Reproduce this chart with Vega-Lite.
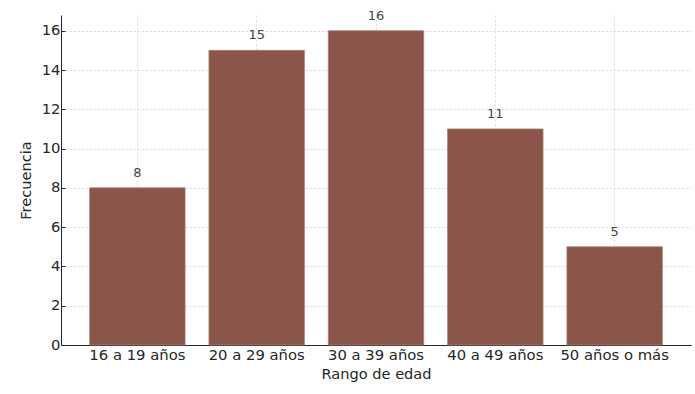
{
  "$schema": "https://vega.github.io/schema/vega-lite/v6.json",
  "width": 630,
  "height": 330,
  "autosize": {"type": "none"},
  "padding": {"left": 61, "top": 15, "right": 4, "bottom": 49},
  "background": "white",
  "data": {
    "values": [
      {"rango": "16 a 19 años", "frecuencia": 8},
      {"rango": "20 a 29 años", "frecuencia": 15},
      {"rango": "30 a 39 años", "frecuencia": 16},
      {"rango": "40 a 49 años", "frecuencia": 11},
      {"rango": "50 años o más", "frecuencia": 5}
    ]
  },
  "config": {
    "font": "DejaVu Sans",
    "view": {"stroke": null},
    "axis": {
      "labelFont": "DejaVu Sans",
      "titleFont": "DejaVu Sans",
      "labelFontSize": 14.8,
      "titleFontSize": 14.6,
      "titleFontWeight": "normal",
      "labelColor": "#262626",
      "titleColor": "#262626",
      "domainColor": "#262626",
      "domainWidth": 1,
      "tickColor": "#262626",
      "tickSize": -4,
      "tickWidth": 1,
      "gridColor": "#cfcfcf",
      "gridOpacity": 0.8,
      "gridWidth": 0.8,
      "gridDash": [2.5, 1.5],
      "zindex": 1
    }
  },
  "encoding": {
    "x": {
      "field": "rango",
      "type": "nominal",
      "sort": null,
      "scale": {"paddingInner": 0.2, "paddingOuter": 0.24},
      "axis": {
        "title": "Rango de edad",
        "labelAngle": 0,
        "labelPadding": 6,
        "titlePadding": 5,
        "bandPosition": 0.5,
        "grid": true
      }
    },
    "y": {
      "field": "frecuencia",
      "type": "quantitative",
      "scale": {"domain": [0, 16.8], "nice": false, "zero": true},
      "axis": {
        "title": "Frecuencia",
        "values": [0, 2, 4, 6, 8, 10, 12, 14, 16],
        "labelPadding": 5,
        "titlePadding": 8,
        "grid": true
      }
    }
  },
  "layer": [
    {
      "mark": {"type": "bar", "color": "#8b5549", "stroke": "#a58178", "strokeWidth": 0.8}
    },
    {
      "mark": {"type": "text", "baseline": "alphabetic", "dy": -11, "fontSize": 13, "color": "#444444", "font": "DejaVu Sans"},
      "encoding": {"text": {"field": "frecuencia", "type": "quantitative"}}
    }
  ]
}
